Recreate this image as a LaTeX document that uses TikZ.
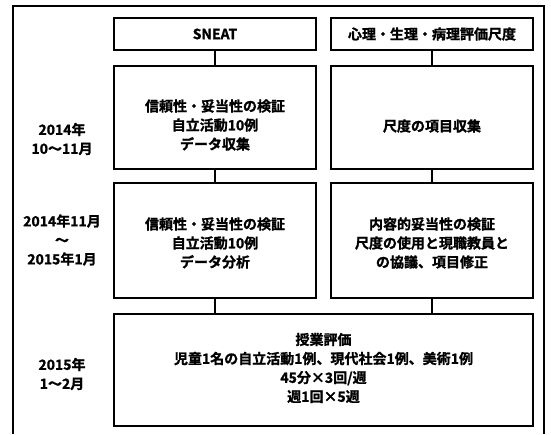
\documentclass[tikz,border=0pt]{standalone}
\usepackage{fontspec}
\setmainfont{Noto Sans CJK JP}[BoldFont={Noto Sans CJK JP Bold},BoldFeatures={FakeBold=1.3}]
\begin{document}
\begin{tikzpicture}[x=1pt,y=-1pt,
  box/.style={draw=black,line width=1.7pt,minimum width=202pt,inner sep=0pt},
  txt/.style={align=center,font=\fontsize{14}{19}\selectfont\bfseries,inner sep=0pt},
  conn/.style={draw=black,line width=1.7pt},
  frame/.style={draw=black,line width=1.8pt}]
\useasboundingbox (0,0) rectangle (551,434);
% outer frame (open at bottom)
\coordinate (fbl) at (13,434);
\coordinate (ftl) at (13,6);
\coordinate (ftr) at (544,6);
\coordinate (fbr) at (544,434);
\draw[frame] (fbl) -- (ftl) -- (ftr) -- (fbr);
% header boxes
\node[box,minimum height=32pt,txt] (hl) at (215,34) {SNEAT};
\node[box,minimum height=32pt,txt] (hr) at (432,34) {心理・生理・病理評価尺度};
% row 1
\node[box,minimum height=103pt] (r1l) at (215,117.5) {};
\node[box,minimum height=103pt] (r1r) at (432,117.5) {};
\node[txt] (r1lt) at (215,125) {信頼性・妥当性の検証\\自立活動10例\\データ収集};
\node[txt] (r1rt) at (432,126) {尺度の項目収集};
% row 2
\node[box,minimum height=115pt] (r2l) at (215,240.5) {};
\node[box,minimum height=115pt] (r2r) at (432,240.5) {};
\node[txt] (r2lt) at (215,243) {信頼性・妥当性の検証\\自立活動10例\\データ分析};
\node[txt] (r2rt) at (432,243) {内容的妥当性の検証\\尺度の使用と現職教員と\\の協議、項目修正};
% bottom
\node[box,minimum width=419pt,minimum height=112pt] (bt) at (323.5,370) {};
\node[txt] (btt) at (323.5,368) {授業評価\\児童1名の自立活動1例、現代社会1例、美術1例\\45分×3回/週\\週1回×5週};
% time labels
\node[txt] (t1) at (62,139) {2014年\\10〜11月};
\node[txt] (t2) at (62,240) {2014年11月\\〜\\2015年1月};
\node[txt] (t3) at (62,374) {2015年\\1〜2月};
% connectors
\draw[conn] (hl.south) -- (r1l.north);
\draw[conn] (hr.south) -- (r1r.north);
\draw[conn] (r1l.south) -- (r2l.north);
\draw[conn] (r1r.south) -- (r2r.north);
\draw[conn] (r2l.south) -- (r2l.south |- bt.north);
\draw[conn] (r2r.south) -- (r2r.south |- bt.north);
\end{tikzpicture}
\end{document}
